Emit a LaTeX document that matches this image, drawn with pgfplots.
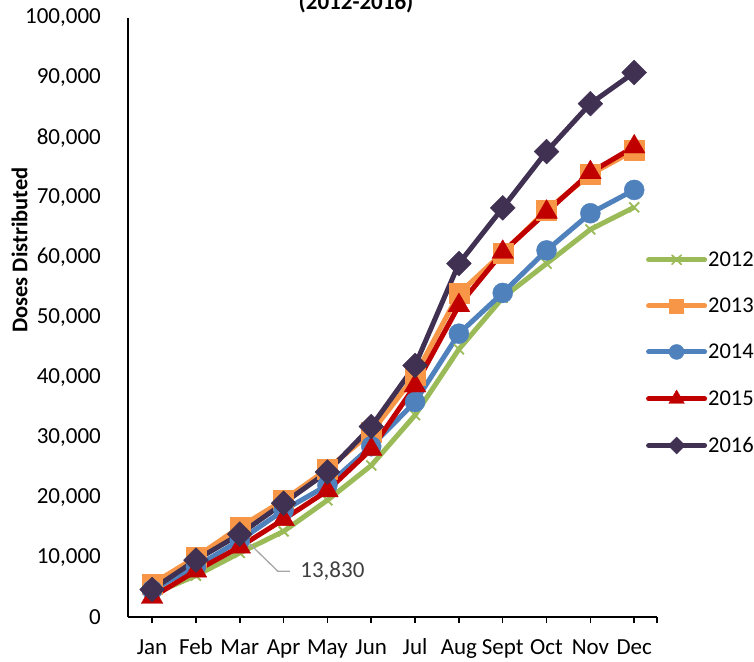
\documentclass[border=0pt]{standalone}
\usepackage{fontspec}
\setmainfont{Carlito}
\usepackage{pgfplots}
\pgfplotsset{compat=1.18}
\definecolor{c12}{HTML}{9BBB59}
\definecolor{c13}{HTML}{F79646}
\definecolor{c14}{HTML}{4F81BD}
\definecolor{c15}{HTML}{C00000}
\definecolor{c16}{HTML}{403152}
\definecolor{leader}{HTML}{A6A6A6}
\definecolor{annot}{HTML}{404040}
\newcommand{\bigfont}{\fontsize{23}{27}\selectfont}
\begin{document}
\begin{tikzpicture}
\begin{axis}[
  at={(0pt,0pt)}, anchor=south west,
  scale only axis, width=529pt, height=599pt,
  xmin=-0.55, xmax=11.52, ymin=0, ymax=100000,
  axis x line*=bottom, axis y line*=left,
  axis line style={black, line width=2pt},
  xtick={0,1,2,3,4,5,6,7,8,9,10,11},
  xticklabels={Jan,Feb,Mar,Apr,May,Jun,Jul,Aug,Sept,Oct,Nov,Dec},
  extra x ticks={11.52}, extra x tick labels={},
  ytick={0,10000,20000,30000,40000,50000,60000,70000,80000,90000,100000},
  scaled y ticks=false,
  tick align=outside,
  major tick length=6pt,
  x tick style={black, line width=1.5pt},
  y tick style={draw=none},
  tick label style={font=\bigfont},
  yticklabel style={anchor=east, inner sep=0pt, xshift=-21pt},
  xticklabel style={anchor=base, inner sep=0pt, yshift=-31pt},
  /pgf/number format/fixed,
  /pgf/number format/1000 sep={,},
  /pgf/number format/assume math mode=true,
  ylabel={Doses Distributed},
  every axis y label/.style={at={(axis description cs:-0.205,0.6127)}, rotate=90, anchor=center, font=\fontsize{22.5}{26}\selectfont\bfseries},
  clip=false,
  legend style={at={(axis description cs:0.979,0.441)}, anchor=west, draw=none, fill=none,
    inner sep=0pt, row sep=30pt, column sep=1pt, font=\fontsize{22.5}{26}\selectfont, nodes={inner sep=0pt}},
  legend cell align=left,
  legend image code/.code={\draw[mark repeat=2,mark phase=2,#1] plot coordinates {(0pt,0pt) (28pt,0pt) (56pt,0pt)};},
  every axis plot/.append style={line width=5pt, line join=round},
]
\addplot[forget plot, color=c12, mark=x, mark size=7pt, mark options={line width=1.8pt}] coordinates {
 (0,3800) (1,6900) (2,10700) (3,14300) (4,19500) (5,25300) (6,33700) (7,44700) (8,53300) (9,59000) (10,64700) (11,68400)};
\addplot[forget plot, color=c13, mark=square*, mark size=10pt, mark options={line width=0.4pt}] coordinates {
 (0,5500) (1,10000) (2,15000) (3,19500) (4,24700) (5,30800) (6,40300) (7,54000) (8,60800) (9,67900) (10,73900) (11,77900)};
\addplot[forget plot, color=c14, mark=*, mark size=10pt, mark options={line width=0.4pt}] coordinates {
 (0,4500) (1,8400) (2,12800) (3,17800) (4,22000) (5,28500) (6,35900) (7,47300) (8,54100) (9,61200) (10,67400) (11,71300)};
\addplot[forget plot, color=c15, mark=triangle*, mark size=12.5pt, mark options={line width=0.4pt}] coordinates {
 (0,3300) (1,7700) (2,11700) (3,16300) (4,21100) (5,28000) (6,38600) (7,52000) (8,60900) (9,67600) (10,74200) (11,78500)};
\addplot[forget plot, color=c16, mark=square*, mark size=8.8pt, mark options={rotate=45, line width=0.4pt}] coordinates {
 (0,4600) (1,9500) (2,13830) (3,19000) (4,24200) (5,31800) (6,42000) (7,59000) (8,68300) (9,77700) (10,85700) (11,90900)};
\addlegendimage{color=c12, line width=5pt, line cap=round, mark=x, mark size=6.5pt, mark options={line width=1.6pt}}
\addlegendentry{2012}
\addlegendimage{color=c13, line width=5pt, line cap=round, mark=square*, mark size=7pt, mark options={line width=0.4pt}}
\addlegendentry{2013}
\addlegendimage{color=c14, line width=5pt, line cap=round, mark=*, mark size=7.5pt, mark options={line width=0.4pt}}
\addlegendentry{2014}
\addlegendimage{color=c15, line width=5pt, line cap=round, mark=triangle*, mark size=9pt, mark options={line width=0.4pt}}
\addlegendentry{2015}
\addlegendimage{color=c16, line width=5pt, line cap=round, mark=square*, mark size=6pt, mark options={rotate=45, line width=0.4pt}}
\addlegendentry{2016}
\draw[color=leader, line width=1.3pt] (axis cs:2,13830) -- ++(38pt,-37pt) -- ++(12pt,0pt)
  node[anchor=west, inner sep=0pt, xshift=10pt, text=annot, font=\bigfont] {13,830};
\node[anchor=base, font=\fontsize{23}{27}\selectfont\bfseries] at (axis description cs:0.431,1.0134) {(2012-2016)};
\end{axis}
\pgfresetboundingbox
\useasboundingbox (-128pt,-44pt) rectangle (626pt,617pt);
\end{tikzpicture}
\end{document}
